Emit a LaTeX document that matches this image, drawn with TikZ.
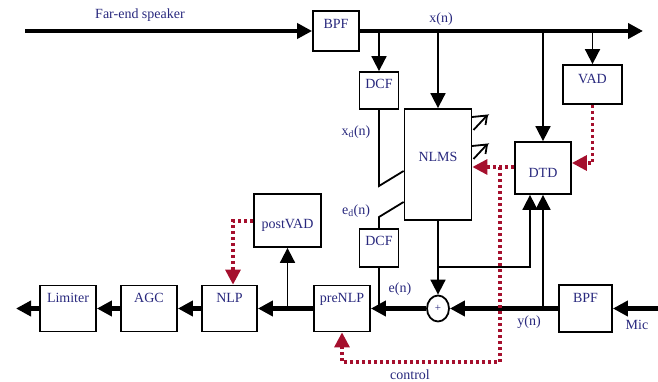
\documentclass[tikz,border=0pt]{standalone}
\usepackage{fontspec}
\setmainfont{Liberation Serif}
\usetikzlibrary{arrows.meta,positioning,shapes.geometric}
\definecolor{labelblue}{RGB}{40,40,125}
\definecolor{ctrlred}{RGB}{165,15,45}
\tikzset{
  blk/.style={draw, line width=1.8pt, inner sep=0pt, text=labelblue, text height=10pt},
  lowtext/.style={blk, minimum height=46pt, text depth=23pt},
  sig/.style={line width=4.5pt, -{Triangle[length=15pt,width=15pt]}},
  tap/.style={line width=1.8pt, -{Triangle[length=15pt,width=15pt]}},
  wire/.style={line width=1.8pt},
  ctrl/.style={ctrlred, line width=3.2pt, dash pattern=on 3pt off 3pt, -{Triangle[length=15pt,width=15pt]}},
  lbl/.style={text=labelblue, inner sep=0pt}
}
\begin{document}
\begin{tikzpicture}[x=1pt, y=-1pt, font=\fontsize{14}{16}\selectfont]
\useasboundingbox (0,0) rectangle (658,382);
% Blocks
\node[blk, minimum width=46pt, minimum height=40pt, text depth=14.8pt] (bpfx) at (336,31) {BPF};
\node[blk, minimum width=39pt, minimum height=37pt, text depth=14.8pt] (dcfx) at (379,90.5) {DCF};
\node[blk, minimum width=67pt, minimum height=111pt, text depth=15.8pt] (nlms) at (438,164.5) {NLMS};
\node[blk, minimum width=56pt, minimum height=52pt, text height=28.2pt, text depth=10pt] (dtd) at (543,168) {DTD};
\node[blk, minimum width=59pt, minimum height=39pt, text depth=12.8pt] (vad) at (592.5,84.5) {VAD};
\node[blk, minimum width=39pt, minimum height=38pt, text depth=15.8pt] (dcfe) at (379,248) {DCF};
\node[blk, minimum width=67pt, minimum height=53pt, text height=26.2pt, text depth=10pt] (postvad) at (287.5,220.5) {postVAD};
\node[lowtext, minimum width=56pt] (prenlp) at (342,308.5) {preNLP};
\node[lowtext, minimum width=55pt] (nlp) at (229.5,308.5) {NLP};
\node[lowtext, minimum width=56pt] (agc) at (149,308.5) {AGC};
\node[lowtext, minimum width=56pt] (limiter) at (68,308.5) {Limiter};
\node[lowtext, minimum width=53pt, minimum height=47pt] (bpfy) at (585.5,308.5) {BPF};
\node[draw, ellipse, line width=1.8pt, minimum width=22pt, minimum height=26pt, inner sep=0pt, text=labelblue, font=\fontsize{11}{11}\selectfont] (sum) at (438,308.5) {+};
% Free ends
\coordinate (farend) at (25,31);
\coordinate (xend) at (643,31);
\coordinate (mic) at (658,308.5);
\coordinate (out) at (16,308.5);
\coordinate (dtdin) at ([xshift=-13pt]dtd.south);
\coordinate (ctrlsplit) at (500,167);
\coordinate (nlpctl) at ([xshift=3.5pt]nlp.north);
% Far-end path
\draw[sig] (farend) -- (bpfx.west);
\draw[sig] (bpfx.east) -- (xend);
\draw[tap] (dcfx.north |- bpfx.east) -- (dcfx.north);
\draw[tap] (nlms.north |- bpfx.east) -- (nlms.north);
\draw[tap] (dtd.north |- bpfx.east) -- (dtd.north);
\draw[tap] (vad.north |- bpfx.east) -- (vad.north);
\draw[wire] (dcfx.south) -- (dcfx.south |- 0,186) -- (nlms.west |- 0,171);
\draw[wire] (nlms.west |- 0,202) -- (dcfe.north |- 0,217) -- (dcfe.north);
\draw[wire] (dcfe.south) -- (dcfe.south |- prenlp.east);
% Adaptation marks
\foreach \dy in {0,29} {
  \draw[wire] (472,117+\dy) -- (487,115.5+\dy) -- (473.5,130+\dy);
  \draw[wire] (487,115.5+\dy) -- (485.5,125+\dy);
}
% Near-end path
\draw[tap] (nlms.south) -- (sum.north);
\draw[tap] (nlms.south |- 0,267) -- (dtdin |- 0,267) -- (dtdin);
\draw[tap] (dtd.south |- bpfy.west) -- (dtd.south);
\draw[sig] (mic) -- (bpfy.east);
\draw[sig] (bpfy.west) -- (sum.east);
\draw[sig] (sum.west) -- (prenlp.east);
\draw[sig] (prenlp.west) -- (nlp.east);
\draw[tap] (postvad.south |- nlp.east) -- (postvad.south);
\draw[sig] (nlp.west) -- (agc.east);
\draw[sig] (agc.west) -- (limiter.east);
\draw[sig] (limiter.west) -- (out);
% Control
\draw[ctrl] (vad.south) -- (vad.south |- 0,163) -- (dtd.east |- 0,163);
\draw[ctrl] (dtd.west |- ctrlsplit) -- (nlms.east |- ctrlsplit);
\draw[ctrl] (ctrlsplit) -- (ctrlsplit |- 0,362) -- (prenlp.south |- 0,362) -- (prenlp.south);
\draw[ctrl] (postvad.west |- 0,221) -- (nlpctl |- 0,221) -- (nlpctl);
% Labels
\node[lbl] (farlbl) at (140,15) {Far-end speaker};
\node[lbl] (xlbl) at (441,19.5) {x(n)};
\node[lbl] (xdlbl) at (356,132) {x\textsubscript{d}(n)};
\node[lbl] (edlbl) at (356,211) {e\textsubscript{d}(n)};
\node[lbl] (elbl) at (400,289) {e(n)};
\node[lbl] (ylbl) at (529,322) {y(n)};
\node[lbl] (ctrllbl) at (410,375) {control};
\node[lbl] (miclbl) at (637,325) {Mic};
\end{tikzpicture}
\end{document}
